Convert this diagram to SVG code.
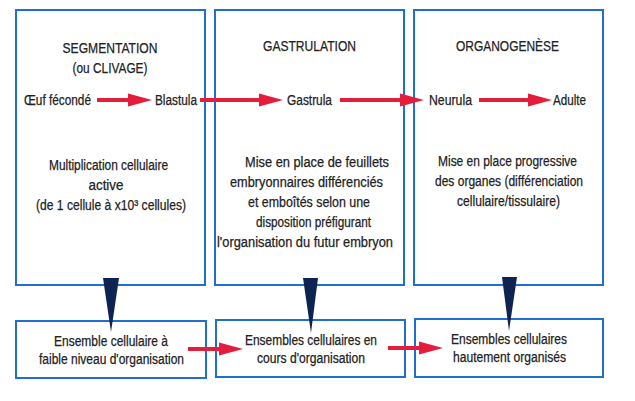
<svg xmlns="http://www.w3.org/2000/svg" width="635" height="401" viewBox="0 0 635 401">
<style>
.box{fill:none;stroke:#1f6fd1;stroke-width:2}
text{font-family:"Liberation Sans",Arial,sans-serif;fill:#222;text-anchor:middle;stroke:#222;stroke-width:0.25px}
.t{font-size:15px}
.b{font-size:14px}
.arr{stroke:#e41e3a;stroke-width:4;fill:none;marker-end:url(#ah)}
.wedge{fill:#0f2352}
</style>
<defs>
<marker id="ah" markerUnits="userSpaceOnUse" markerWidth="26" markerHeight="16" viewBox="0 -8 26 16" refX="4" refY="0" orient="auto">
<path d="M0,-6.5 L24,0 L0,6.5 z" fill="#e41e3a"/>
</marker>
</defs>
<rect width="635" height="401" fill="#fff"/>
<g id="segmentation">
<rect class="box" x="16" y="10" width="189" height="275"/>
<text class="t" x="110" y="53" textLength="95" lengthAdjust="spacingAndGlyphs">SEGMENTATION</text>
<text class="t" x="110" y="73" textLength="75" lengthAdjust="spacingAndGlyphs">(ou CLIVAGE)</text>
<text class="b" x="108.5" y="170" textLength="119" lengthAdjust="spacingAndGlyphs">Multiplication cellulaire</text>
<text class="b" x="106" y="190" textLength="35" lengthAdjust="spacingAndGlyphs">active</text>
<text class="b" x="111" y="210" textLength="150" lengthAdjust="spacingAndGlyphs">(de 1 cellule à x10³ cellules)</text>
</g>
<g id="gastrulation">
<rect class="box" x="215" y="10" width="189" height="275"/>
<text class="t" x="309.5" y="51" textLength="93" lengthAdjust="spacingAndGlyphs">GASTRULATION</text>
<text class="b" x="317" y="167" textLength="144" lengthAdjust="spacingAndGlyphs">Mise en place de feuillets</text>
<text class="b" x="306.5" y="187" textLength="153" lengthAdjust="spacingAndGlyphs">embryonnaires différenciés</text>
<text class="b" x="309" y="207" textLength="122" lengthAdjust="spacingAndGlyphs">et emboîtés selon une</text>
<text class="b" x="313.5" y="227" textLength="115" lengthAdjust="spacingAndGlyphs">disposition préfigurant</text>
<text class="b" x="305" y="247" textLength="176" lengthAdjust="spacingAndGlyphs">l'organisation du futur embryon</text>
</g>
<g id="organogenese">
<rect class="box" x="414" y="10" width="189" height="275"/>
<text class="t" x="507.5" y="51" textLength="103" lengthAdjust="spacingAndGlyphs">ORGANOGENÈSE</text>
<text class="b" x="507.5" y="166" textLength="139" lengthAdjust="spacingAndGlyphs">Mise en place progressive</text>
<text class="b" x="509" y="186" textLength="148" lengthAdjust="spacingAndGlyphs">des organes (différenciation</text>
<text class="b" x="508.5" y="206" textLength="103" lengthAdjust="spacingAndGlyphs">cellulaire/tissulaire)</text>
</g>
<g id="stades">
<text class="b" x="57.5" y="105" textLength="67" lengthAdjust="spacingAndGlyphs">Œuf fécondé</text>
<text class="b" x="176" y="105" textLength="42" lengthAdjust="spacingAndGlyphs">Blastula</text>
<text class="b" x="309.5" y="105" textLength="45" lengthAdjust="spacingAndGlyphs">Gastrula</text>
<text class="b" x="450.5" y="105" textLength="43" lengthAdjust="spacingAndGlyphs">Neurula</text>
<text class="b" x="569.5" y="105" textLength="33" lengthAdjust="spacingAndGlyphs">Adulte</text>
</g>
<g id="ensemble1">
<rect class="box" x="16" y="321" width="190" height="57"/>
<text class="b" x="111" y="346" textLength="114" lengthAdjust="spacingAndGlyphs">Ensemble cellulaire à</text>
<text class="b" x="111.5" y="364" textLength="145" lengthAdjust="spacingAndGlyphs">faible niveau d'organisation</text>
</g>
<g id="ensemble2">
<rect class="box" x="216" y="320" width="189" height="57"/>
<text class="b" x="311" y="345" textLength="132" lengthAdjust="spacingAndGlyphs">Ensembles cellulaires en</text>
<text class="b" x="311" y="363" textLength="108" lengthAdjust="spacingAndGlyphs">cours d'organisation</text>
</g>
<g id="ensemble3">
<rect class="box" x="415" y="319" width="188" height="58"/>
<text class="b" x="509" y="344" textLength="116" lengthAdjust="spacingAndGlyphs">Ensembles cellulaires</text>
<text class="b" x="509.5" y="362" textLength="113" lengthAdjust="spacingAndGlyphs">hautement organisés</text>
</g>
<g id="connectors">
<line class="arr" x1="97" y1="100" x2="132" y2="100"/>
<line class="arr" x1="200" y1="100" x2="263" y2="100"/>
<line class="arr" x1="340" y1="100" x2="404" y2="100"/>
<line class="arr" x1="479" y1="100" x2="532" y2="100"/>
<line class="arr" x1="188" y1="349" x2="223" y2="349"/>
<line class="arr" x1="388" y1="348" x2="423" y2="348"/>
<polygon class="wedge" points="103,278 119,278 111,332"/>
<polygon class="wedge" points="303,278 318,278 311,333"/>
<polygon class="wedge" points="502,277 517,277 509,331"/>
</g>
</svg>
